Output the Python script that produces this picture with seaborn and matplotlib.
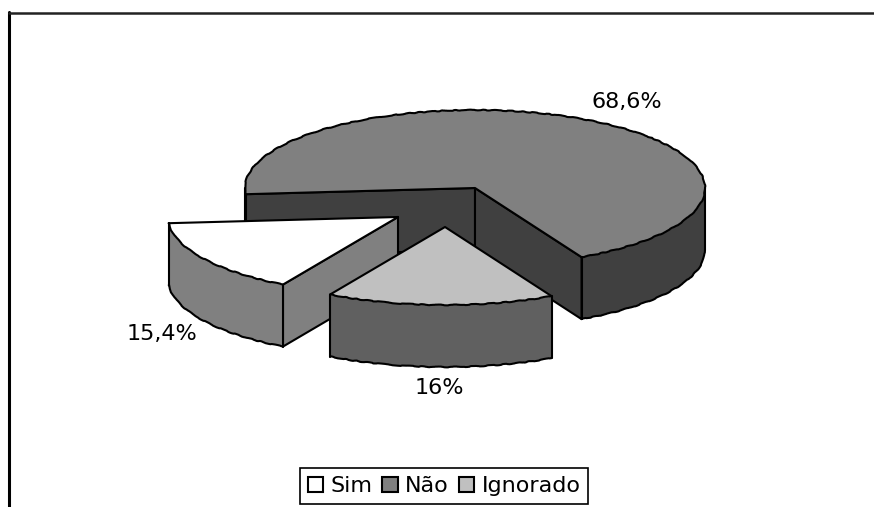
import numpy as np
import matplotlib
matplotlib.use("Agg")
import matplotlib.pyplot as plt
from matplotlib.patches import Patch
import seaborn as sns

categories = ["Sim", "Não", "Ignorado"]
shares = [15.4, 68.6, 16.0]
labels = ["15,4%", "68,6%", "16%"]

top_colors = ["#FFFFFF", "#808080", "#C0C0C0"]
side_colors = ["#808080", "#404040", "#606060"]

# pie geometry in image pixels
START_ANGLE = 210.0
RX, RY, DEPTH = 230.0, 78.0, 62.0
CENTERS = [(398, 217), (475, 188), (445, 227)]
LABEL_POS = [(162, 334), (627, 102), (439, 388)]
LW = 1.5
FONT = 16


def arc(cx, cy, a0, a1, dy=0.0):
    t = np.radians(np.linspace(a0, a1, 160))
    return cx + RX * np.sin(t), cy - RY * np.cos(t) + dy


def line(ax, xs, ys, z, rough=False):
    ln, = ax.plot(xs, ys, color="black", lw=LW, zorder=z, solid_capstyle="round")
    if rough:
        ln.set_sketch_params(scale=0.4, length=24, randomness=6)
    return ln


def draw_arc_side(ax, cx, cy, a0, a1, color, z):
    # outer wall of a slice between two angles, only the part facing us
    x1, y1 = arc(cx, cy, a0, a1)
    x2, y2 = arc(cx, cy, a0, a1, DEPTH)
    ax.fill(np.r_[x1, x2[::-1]], np.r_[y1, y2[::-1]], color=color, lw=0, zorder=z)
    line(ax, x2, y2, z + 0.1, rough=True)
    line(ax, [x1[0], x2[0]], [y1[0], y2[0]], z + 0.1)
    line(ax, [x1[-1], x2[-1]], [y1[-1], y2[-1]], z + 0.1)


def draw_cut(ax, cx, cy, a, color, z):
    # flat wall running from the centre out to the rim
    ex, ey = arc(cx, cy, a, a)
    ex, ey = ex[0], ey[0]
    ax.fill([cx, ex, ex, cx], [cy, ey, ey + DEPTH, cy + DEPTH], color=color, lw=0, zorder=z)
    line(ax, [cx, ex, ex, cx, cx], [cy, ey, ey + DEPTH, cy + DEPTH, cy], z + 0.1)


def draw_top(ax, cx, cy, a0, a1, color, z):
    x, y = arc(cx, cy, a0, a1)
    ax.fill(np.r_[cx, x], np.r_[cy, y], color=color, lw=0, zorder=z)
    line(ax, x, y, z + 0.1, rough=True)
    line(ax, [x[-1], cx, x[0]], [y[-1], cy, y[0]], z + 0.1)


sns.set_theme(style="white")
plt.rcParams["font.family"] = ["DejaVu Sans"]

fig = plt.figure(figsize=(8.74, 5.07), dpi=100)
ax = fig.add_axes([0, 0, 1, 1])
ax.set_xlim(0, 874)
ax.set_ylim(507, 0)
ax.axis("off")

edges = START_ANGLE + np.r_[0, np.cumsum(shares)] * 3.6
sim = (edges[0], edges[1])
nao = (edges[1], edges[2])
ign = (edges[2], edges[3])

# Nao: far slice, drawn first
cx, cy = CENTERS[1]
draw_cut(ax, cx, cy, nao[0], side_colors[1], 1)
draw_cut(ax, cx, cy, nao[1], side_colors[1], 1.2)
draw_arc_side(ax, cx, cy, 450, nao[1], side_colors[1], 1.4)
draw_arc_side(ax, cx, cy, nao[0], 270, side_colors[1], 1.4)
draw_top(ax, cx, cy, nao[0], nao[1], top_colors[1], 2)

# Sim
cx, cy = CENTERS[0]
draw_cut(ax, cx, cy, sim[0], side_colors[0], 3)
draw_arc_side(ax, cx, cy, sim[0], sim[1], side_colors[0], 3.2)
draw_top(ax, cx, cy, sim[0], sim[1], top_colors[0], 4)

# Ignorado
cx, cy = CENTERS[2]
draw_arc_side(ax, cx, cy, ign[0], ign[1], side_colors[2], 5)
draw_top(ax, cx, cy, ign[0], ign[1], top_colors[2], 6)

for txt, (lx, ly) in zip(labels, LABEL_POS):
    ax.text(lx, ly, txt, fontsize=FONT, color="black", ha="center", va="center", zorder=8)

# chart frame, runs off the right and bottom of the image
ax.plot([9, 9], [507, 12], color="black", lw=2.2, zorder=0)
ax.plot([9, 874], [12.5, 12.5], color="#222222", lw=1.8, zorder=0)

handles = [Patch(facecolor=c, edgecolor="black", linewidth=1.5) for c in top_colors]
leg = ax.legend(handles, categories, loc="lower center", bbox_to_anchor=(444, 504),
                bbox_transform=ax.transData, ncol=3, fontsize=FONT, frameon=True,
                fancybox=False, framealpha=1, edgecolor="black", borderaxespad=0,
                labelcolor="black", handlelength=0.7, handleheight=0.7, handletextpad=0.32,
                columnspacing=0.45, borderpad=0.35)
leg.get_frame().set_linewidth(1.2)
leg.set_zorder(9)

fig.savefig("out.png", dpi=100)
